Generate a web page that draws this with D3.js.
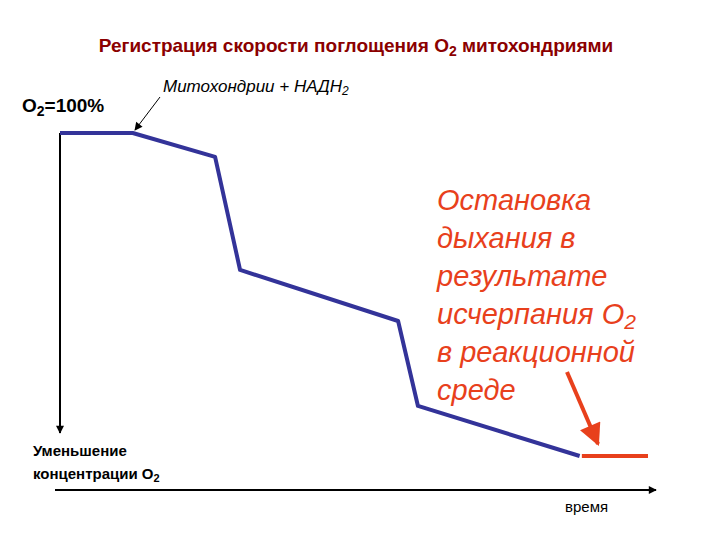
<!DOCTYPE html>
<html><head><meta charset="utf-8">
<script src="https://cdn.jsdelivr.net/npm/d3@7"></script>
<style>body{margin:0;background:#fff}text{font-family:"Liberation Sans",Arial,sans-serif}</style>
</head><body><svg width="720" height="540"></svg>
<script>
const times = [0, 9.9, 21.1, 24.5, 46, 48.7, 70.7];
const o2 = [100, 100, 92.6, 57.6, 41.8, 15.5, 0];
const stopTimes = [71, 80];
const stopO2 = [0, 0];
const stopLines = ['Остановка', 'дыхания в', 'результате', 'исчерпания O<tspan font-size="21" dy="5">2</tspan>', 'в реакционной', 'среде'];

const svg = d3.select('svg');
const x = d3.scaleLinear().domain([0, 80]).range([60, 648]);
const y = d3.scaleLinear().domain([0, 100]).range([456, 133]);
const red = '#e8401c';

const defs = svg.append('defs');
function marker(id, color, w, h) {
  defs.append('marker').attr('id', id).attr('viewBox', '0 0 10 10').attr('refX', 9).attr('refY', 5)
    .attr('markerWidth', w).attr('markerHeight', h).attr('markerUnits', 'userSpaceOnUse').attr('orient', 'auto')
    .append('path').attr('d', 'M0,0L10,5L0,10z').attr('fill', color);
}
marker('ak', '#000', 10, 8);
marker('ar', red, 24, 22);

// axes
svg.append('line').attr('x1', 60).attr('y1', 133).attr('x2', 60).attr('y2', 433)
  .attr('stroke', '#000').attr('stroke-width', 2).attr('marker-end', 'url(#ak)');
svg.append('line').attr('x1', 55).attr('y1', 490).attr('x2', 656).attr('y2', 490)
  .attr('stroke', '#000').attr('stroke-width', 2).attr('marker-end', 'url(#ak)');

const line = d3.line().x(d => x(d[0])).y(d => y(d[1]));
svg.append('path').attr('d', line(d3.zip(times, o2))).attr('fill', 'none')
  .attr('stroke', '#333399').attr('stroke-width', 4).attr('stroke-linejoin', 'round');
svg.append('path').attr('d', line(d3.zip(stopTimes, stopO2))).attr('fill', 'none')
  .attr('stroke', red).attr('stroke-width', 4);

// title
svg.append('text').attr('x', 356).attr('y', 52).attr('text-anchor', 'middle')
  .attr('font-size', 19).attr('font-weight', 'bold').attr('fill', '#8b0000')
  .html('Регистрация скорости поглощения O<tspan font-size="14" dy="4">2</tspan><tspan dy="-4"> митохондриями</tspan>');

svg.append('text').attr('x', 22).attr('y', 112).attr('font-size', 19).attr('font-weight', 'bold')
  .html('O<tspan font-size="14" dy="4">2</tspan><tspan dy="-4">=100%</tspan>');

svg.append('text').attr('x', 163).attr('y', 92).attr('font-size', 17).attr('font-style', 'italic')
  .html('Митохондрии + НАДН<tspan font-size="12" dy="3">2</tspan>');
svg.append('line').attr('x1', 160).attr('y1', 97).attr('x2', 135).attr('y2', 130)
  .attr('stroke', '#000').attr('stroke-width', 1).attr('marker-end', 'url(#ak)');

svg.append('g').selectAll('text').data(stopLines).join('text')
  .attr('x', 437).attr('y', (d, i) => 210 + i * 38)
  .attr('font-size', 29).attr('font-style', 'italic').attr('fill', red)
  .html(d => d);
svg.append('line').attr('x1', 567).attr('y1', 372).attr('x2', 598).attr('y2', 444)
  .attr('stroke', red).attr('stroke-width', 4).attr('marker-end', 'url(#ar)');

svg.append('text').attr('x', 33).attr('y', 456).attr('font-size', 15).attr('font-weight', 'bold').text('Уменьшение');
svg.append('text').attr('x', 33).attr('y', 479).attr('font-size', 15).attr('font-weight', 'bold')
  .html('концентрации O<tspan font-size="11" dy="3">2</tspan>');
svg.append('text').attr('x', 565).attr('y', 512).attr('font-size', 15).text('время');
</script></body></html>
